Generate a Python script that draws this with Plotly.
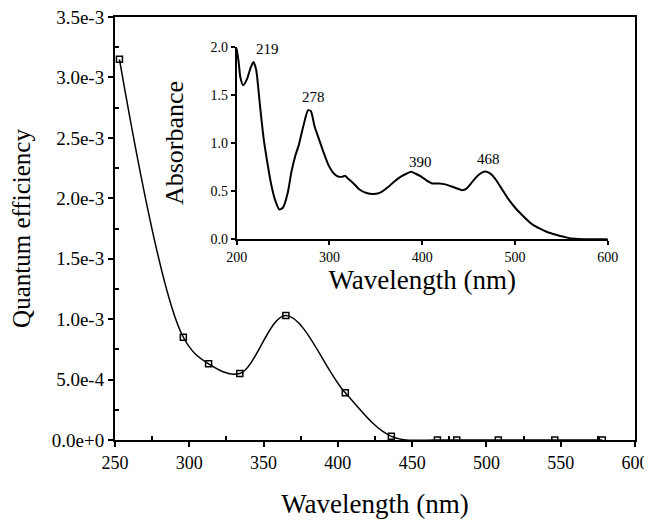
import plotly.graph_objects as go

# Main: quantum efficiency vs wavelength
qe_wavelength = [253, 296, 313, 334, 365, 405, 436, 467, 480, 508, 546, 578]
qe_values = [3.15e-3, 8.5e-4, 6.3e-4, 5.5e-4, 1.03e-3, 3.9e-4, 3.0e-5, 0.0, 0.0, 0.0, 0.0, 0.0]

qe_ytick_vals = [0, 5e-4, 1e-3, 1.5e-3, 2e-3, 2.5e-3, 3e-3, 3.5e-3]
qe_ytick_text = ["0.0e+0", "5.0e-4", "1.0e-3", "1.5e-3", "2.0e-3", "2.5e-3", "3.0e-3", "3.5e-3"]

# Inset: absorbance spectrum
abs_wavelength = [200, 202, 204, 207, 211, 215, 218, 221, 225, 229, 233, 237, 241, 246, 250, 255,
                  259, 263, 267, 272, 277, 280, 284, 288, 293, 299, 305, 310, 314, 317, 320, 326,
                  332, 340, 348, 356, 363, 370, 377, 383, 388, 393, 399, 405, 411, 418, 425, 431,
                  437, 443, 447, 451, 456, 461, 466, 470, 475, 480, 486, 492, 500, 509, 518, 527,
                  536, 545, 555, 565, 580, 600]
abs_values = [1.98, 1.85, 1.68, 1.60, 1.66, 1.78, 1.84, 1.76, 1.40, 1.05, 0.80, 0.58, 0.42, 0.31, 0.33, 0.48,
              0.70, 0.86, 0.98, 1.18, 1.34, 1.33, 1.17, 1.06, 0.92, 0.77, 0.68, 0.65, 0.65, 0.66, 0.63, 0.58,
              0.52, 0.48, 0.47, 0.49, 0.54, 0.60, 0.65, 0.68, 0.70, 0.68, 0.65, 0.61, 0.58, 0.58, 0.57, 0.55,
              0.53, 0.51, 0.52, 0.56, 0.62, 0.67, 0.70, 0.70, 0.67, 0.61, 0.52, 0.43, 0.33, 0.24, 0.16, 0.11,
              0.07, 0.045, 0.02, 0.005, 0.0, 0.0]

peak_positions = [219, 278, 390, 468]
peak_label_x = [233, 283, 398, 471]
peak_label_y = [1.97, 1.48, 0.80, 0.83]

FONT = "Liberation Serif"

fig = go.Figure()

fig.add_trace(go.Scatter(
    x=qe_wavelength, y=qe_values, mode="lines+markers",
    line=dict(color="black", width=1.5, shape="spline", smoothing=1.0),
    marker=dict(symbol="square-open", size=6, color="black", line=dict(width=1.5)),
    xaxis="x", yaxis="y", showlegend=False,
))

fig.add_trace(go.Scatter(
    x=abs_wavelength, y=abs_values, mode="lines",
    line=dict(color="black", width=2, shape="spline", smoothing=0.6),
    xaxis="x2", yaxis="y2", showlegend=False,
))

for lx, ly, p in zip(peak_label_x, peak_label_y, peak_positions):
    fig.add_annotation(x=lx, y=ly, xref="x2", yref="y2", text=str(p), showarrow=False,
                       font=dict(family=FONT, size=15, color="black"))

# The page body adds an 8px offset; the figure is sized to fit inside the window.
fig.update_layout(
    width=644, height=513,
    margin=dict(l=107, r=17, t=9, b=81),
    paper_bgcolor="white", plot_bgcolor="white",
    font=dict(family=FONT, color="black"),
    xaxis=dict(
        range=[250, 600], domain=[0, 1], automargin=False, ticklabeloverflow="allow",
        tickvals=[250, 300, 350, 400, 450, 500, 550, 600],
        ticks="outside", ticklen=5, tickwidth=1.5, tickcolor="black",
        minor=dict(tickvals=[275, 325, 375, 425, 475, 525, 575], ticks="inside", ticklen=4, tickcolor="black"),
        showline=True, linecolor="black", linewidth=2, mirror=True,
        showgrid=False, zeroline=False,
        tickfont=dict(family=FONT, size=18),
        title=dict(text="Wavelength (nm)", font=dict(family=FONT, size=27), standoff=23),
    ),
    yaxis=dict(
        range=[0, 3.5e-3], domain=[0, 1], automargin=False, ticklabeloverflow="allow",
        tickvals=qe_ytick_vals, ticktext=qe_ytick_text,
        ticks="outside", ticklen=5, tickwidth=1.5, tickcolor="black",
        minor=dict(tickvals=[2.5e-4, 7.5e-4, 1.25e-3, 1.75e-3, 2.25e-3, 2.75e-3, 3.25e-3],
                   ticks="inside", ticklen=4, tickcolor="black"),
        showline=True, linecolor="black", linewidth=2, mirror=True,
        showgrid=False, zeroline=False,
        tickfont=dict(family=FONT, size=19),
        title=dict(text="Quantum efficiency", font=dict(family=FONT, size=25), standoff=22),
    ),
    xaxis2=dict(
        range=[200, 600], domain=[0.234, 0.9475], anchor="y2", automargin=False,
        tickvals=[200, 300, 400, 500, 600],
        ticks="outside", ticklen=4, tickwidth=1.5, tickcolor="black",
        showline=True, linecolor="black", linewidth=2,
        showgrid=False, zeroline=False,
        tickfont=dict(family=FONT, size=14),
        title=dict(text="Wavelength (nm)", font=dict(family=FONT, size=27), standoff=0),
    ),
    yaxis2=dict(
        range=[0, 2.0], domain=[0.4745, 0.93], anchor="x2", automargin=False,
        tickvals=[0, 0.5, 1.0, 1.5, 2.0], ticktext=["0.0", "0.5", "1.0", "1.5", "2.0"],
        ticks="outside", ticklen=4, tickwidth=1.5, tickcolor="black",
        showline=True, linecolor="black", linewidth=2,
        showgrid=False, zeroline=False,
        tickfont=dict(family=FONT, size=14),
        title=dict(text="Absorbance", font=dict(family=FONT, size=26), standoff=19),
    ),
)

fig.write_html("out.html")
